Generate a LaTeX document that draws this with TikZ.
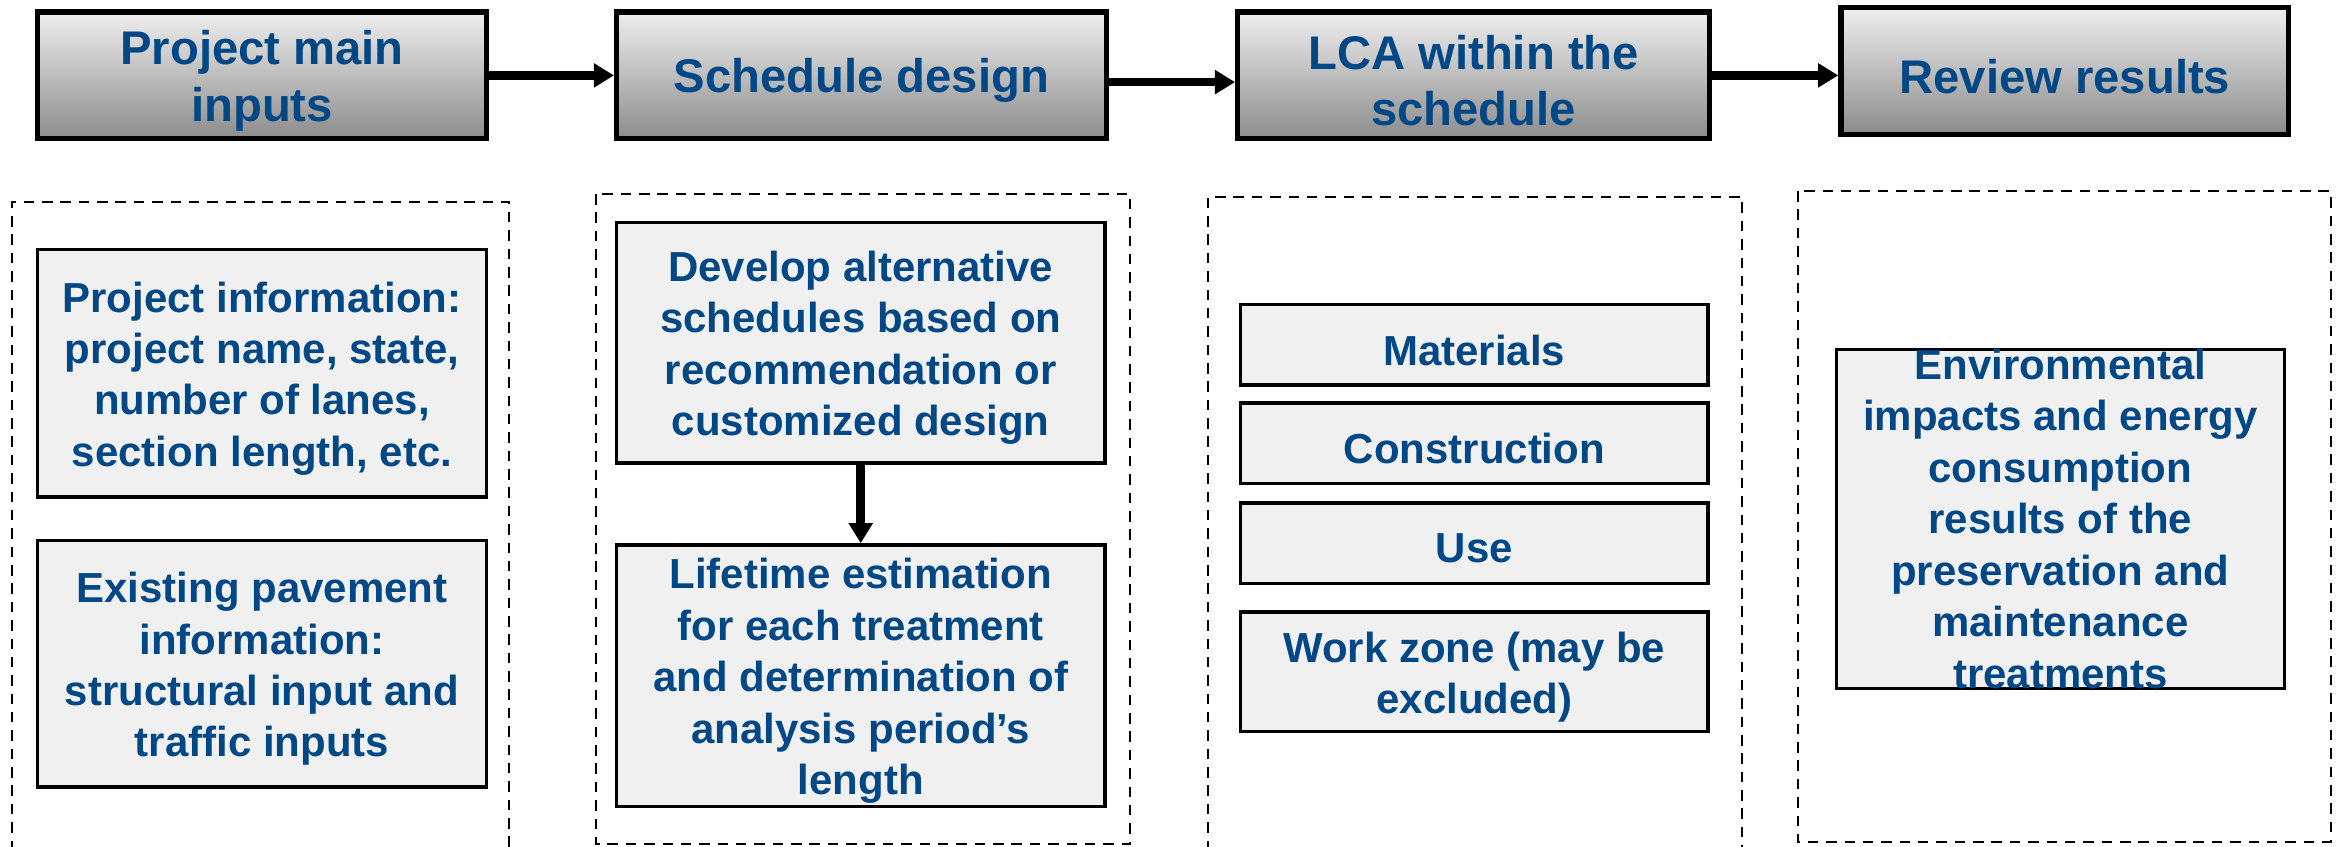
\documentclass[tikz,border=0pt]{standalone}
\usepackage{fontspec}
\setmainfont{Liberation Sans}
\usetikzlibrary{arrows.meta}
\definecolor{txtblue}{RGB}{0,71,133}
\definecolor{boxgray}{RGB}{240,240,240}
\definecolor{headtop}{RGB}{238,238,238}
\definecolor{headbot}{RGB}{140,140,140}

\begin{document}
\begin{tikzpicture}
[head/.style={rectangle,draw=black,line width=2pt,top color=headtop,bottom color=headbot,inner sep=0pt,minimum height=1.7cm},
htxt/.style={text=txtblue,font=\fontsize{18}{21.6}\selectfont\bfseries,align=center,inner sep=0pt,yshift=-0.07cm},
inbox/.style={rectangle,draw=black,line width=1.3pt,fill=boxgray,inner sep=0pt},
btxt/.style={text=txtblue,font=\fontsize{16}{19.6}\selectfont\bfseries,align=center,inner sep=0pt,yshift=-0.07cm},
frame/.style={draw=black,line width=0.8pt,dash pattern=on 4pt off 3pt},
arr/.style={line width=3.3pt,-{Triangle[length=0.27cm,width=0.31cm]}}]
\useasboundingbox (0,0) rectangle (31.36,-11.34);
% top row
\node[head,minimum width=6.02cm,label={[htxt]center:{Project main\\inputs}}] at (3.51,-1.01) (h1) {};
\node[head,minimum width=6.56cm,label={[htxt]center:{Schedule design}}] at (11.54,-1.01) (h2) {};
\node[head,minimum width=6.32cm,label={[htxt]center:{LCA within the\\schedule}}] at (19.74,-1.01) (h3) {};
\node[head,minimum width=6.0cm,label={[htxt]center:{Review results}}] at (27.66,-0.95) (h4) {};
\draw[arr] (h1) -- (h2);
\draw[arr] ([yshift=-0.09cm]h2.east) -- ([yshift=-0.09cm]h3.west);
\draw[arr] (h3.east) -- (h3.east -| h4.west);
% dashed frames
\draw[frame] (0.16,-11.4) |- (6.82,-2.70) -- (6.82,-11.4);
\draw[frame] (7.98,-2.60) rectangle (15.14,-11.30);
\draw[frame] (16.18,-11.4) |- (23.34,-2.64) -- (23.34,-11.4);
\draw[frame] (24.08,-2.56) rectangle (31.22,-11.28);
% inputs
\node[inbox,minimum width=6.02cm,minimum height=3.32cm,label={[btxt]center:{Project information:\\project name, state,\\number of lanes,\\section length, etc.}}] at (3.51,-5.00) (p1) {};
\node[inbox,minimum width=6.02cm,minimum height=3.30cm,label={[btxt]center:{Existing pavement\\information:\\structural input and\\traffic inputs}}] at (3.51,-8.89) (p2) {};
% schedule
\node[inbox,minimum width=6.54cm,minimum height=3.22cm,label={[btxt]center:{Develop alternative\\schedules based on\\recommendation or\\customized design}}] at (11.53,-4.59) (s1) {};
\node[inbox,minimum width=6.54cm,minimum height=3.50cm,label={[btxt]center:{Lifetime estimation\\for each treatment\\and determination of\\analysis period’s\\length}}] at (11.53,-9.05) (s2) {};
\draw[arr] (s1) -- (s2);
% lca stages
\node[inbox,minimum width=6.26cm,minimum height=1.08cm,label={[btxt]center:{Materials}}] at (19.75,-4.62) (l1) {};
\node[inbox,minimum width=6.26cm,minimum height=1.08cm,label={[btxt]center:{Construction}}] at (19.75,-5.94) (l2) {};
\node[inbox,minimum width=6.26cm,minimum height=1.08cm,label={[btxt]center:{Use}}] at (19.75,-7.28) (l3) {};
\node[inbox,minimum width=6.26cm,minimum height=1.60cm,label={[btxt]center:{Work zone (may be\\excluded)}}] at (19.75,-9.00) (l4) {};
% results
\node[inbox,minimum width=6.0cm,minimum height=4.54cm,label={[btxt,yshift=0.07cm]center:{Environmental\\impacts and energy\\consumption\\results of the\\preservation and\\maintenance\\treatments}}] at (27.60,-6.95) (r1) {};
\end{tikzpicture}
\end{document}
